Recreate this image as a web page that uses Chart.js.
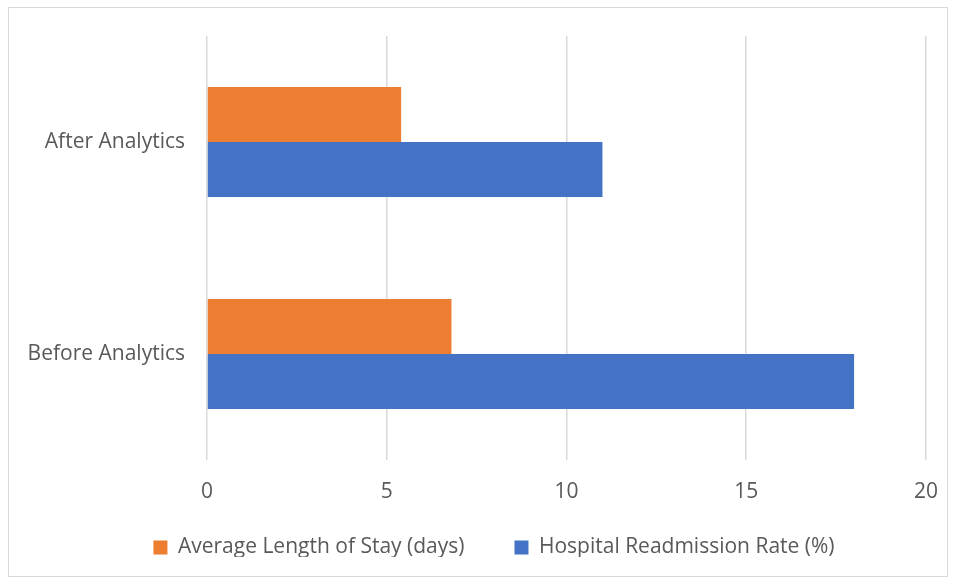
<!DOCTYPE html>
<html>
<head>
<meta charset="utf-8">
<script src="https://cdn.jsdelivr.net/npm/chart.js@4"></script>
<style>
    body { margin: 0; background: #fff; }
    #wrap { position: relative; width: 957px; height: 580px; }
    #frame { position: absolute; left: 8px; top: 7px; width: 940px; height: 570px; border: 1px solid #d9d9d9; box-sizing: border-box; }
    canvas { position: absolute; left: 0; top: 0; }
</style>
</head>
<body>
<div id="wrap">
    <div id="frame"></div>
    <canvas id="chart" width="957" height="580"></canvas>
</div>
<script>
const categories = ["After Analytics", "Before Analytics"];
const stayDays = [5.4, 6.8];
const readmissionRate = [11, 18];
const xTicks = [0, 5, 10, 15, 20];

const textColor = "#595959";
const fontFamily = "'Open Sans', 'Noto Sans', sans-serif";

// fix the legend block height and move it where Excel puts it
const legendFit = {
    id: "legendFit",
    beforeInit(chart) {
        const legend = chart.legend;
        if (!legend) return;
        const fit = legend.fit;
        legend.fit = function () {
            fit.call(this);
            this.height = 70;
        };
    },
    afterLayout(chart) {
        const legend = chart.legend;
        legend.left += 30;
        legend.right += 30;
        legend.top -= 23;
        legend.bottom -= 23;
    }
};

const ctx = document.getElementById("chart").getContext("2d");
new Chart(ctx, {
    type: "bar",
    data: {
        labels: categories,
        datasets: [
            {
                label: "Average Length of Stay (days)",
                data: stayDays,
                backgroundColor: "#ED7D31",
                categoryPercentage: 0.52,
                barPercentage: 1
            },
            {
                label: "Hospital Readmission Rate (%)",
                data: readmissionRate,
                backgroundColor: "#4472C4",
                categoryPercentage: 0.52,
                barPercentage: 1
            }
        ]
    },
    options: {
        indexAxis: "y",
        responsive: false,
        animation: false,
        layout: { padding: { top: 36, right: 29, left: 0, bottom: 0 } },
        scales: {
            x: {
                min: 0,
                max: 20,
                afterBuildTicks(scale) {
                    scale.ticks = xTicks.map(v => ({ value: v }));
                },
                ticks: { color: textColor, font: { family: fontFamily, size: 21 }, padding: 19 },
                grid: { color: "#d9d9d9", lineWidth: 1.5, drawTicks: false },
                border: { display: false },
                afterFit(scale) { scale.height = 50; }
            },
            y: {
                ticks: { color: textColor, font: { family: fontFamily, size: 21 }, padding: 22 },
                grid: { display: false, drawTicks: false },
                border: { display: false },
                afterFit(scale) { scale.width = 207; }
            }
        },
        plugins: {
            legend: {
                position: "bottom",
                labels: {
                    color: textColor,
                    font: { family: fontFamily, size: 21 },
                    boxWidth: 14,
                    boxHeight: 14,
                    padding: 50
                }
            },
            tooltip: { enabled: false }
        }
    },
    plugins: [legendFit]
});
</script>
</body>
</html>
